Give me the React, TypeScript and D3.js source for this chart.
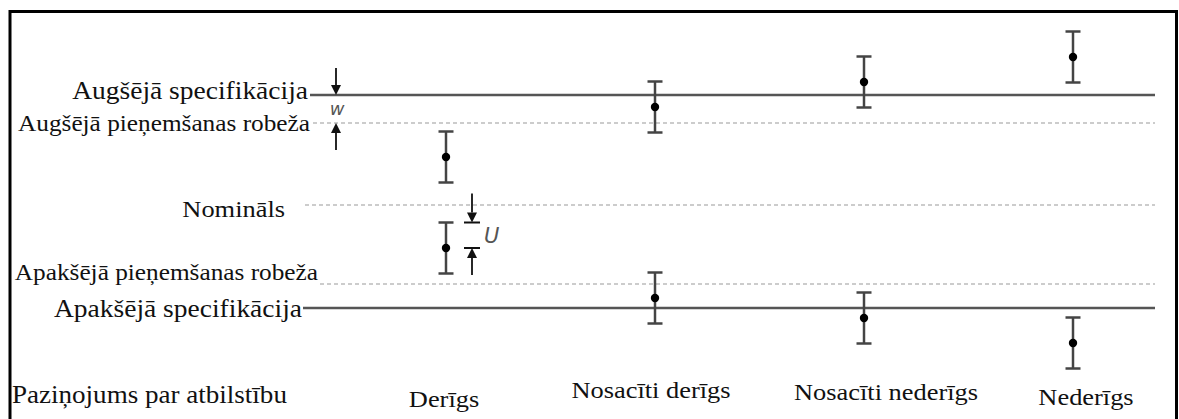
import React from 'react';
import * as d3 from 'd3';

// ---- data ----
const categories = ['Derīgs', 'Nosacīti derīgs', 'Nosacīti nederīgs', 'Nederīgs'];
const upperMeasured = [4.8, 9.8, 12.3, 14.8];
const lowerMeasured = [-4.3, -9.3, -11.3, -13.8];
const uncertaintyU = 2.55;
const limitNames = [
  'Augšējā specifikācija',
  'Augšējā pieņemšanas robeža',
  'Nomināls',
  'Apakšējā pieņemšanas robeža',
  'Apakšējā specifikācija',
];
const limitValues = [11.0, 8.2, 0, -7.9, -10.3];
const limitKinds = ['spec', 'accept', 'nominal', 'accept', 'spec'];
const statementTitle = 'Paziņojums par atbilstību';

// ---- layout (not data) ----
const W = 1179;
const H = 419;
const labelLayout = [
  { endX: 308, dy: 4, fs: 25, lineStart: 310 },
  { endX: 310, dy: 8, fs: 23, lineStart: 313 },
  { endX: 285, dy: 12, fs: 24, lineStart: 305 },
  { endX: 318, dy: -4, fs: 23, lineStart: 320 },
  { endX: 302, dy: 9, fs: 25, lineStart: 303 },
];
const catLabelLayout = [
  { dx: -2, y: 407 },
  { dx: -4, y: 398 },
  { dx: 22, y: 400 },
  { dx: 13, y: 405 },
];
const lineEnd = 1155;
const serif = '"Liberation Serif", "Times New Roman", serif';
const sans = '"DejaVu Sans", "Liberation Sans", sans-serif';
const sx = 1.1;

function Arrow({ x, tail, tip, color }: { x: number; tail: number; tip: number; color: string }) {
  const dir = tip > tail ? 1 : -1;
  const hl = 10;
  const hw = 5;
  return (
    <g>
      <line x1={x} x2={x} y1={tail} y2={tip - dir * hl} stroke={color} strokeWidth={1.8} />
      <path d={`M${x},${tip} L${x - hw},${tip - dir * hl} L${x + hw},${tip - dir * hl} Z`} fill={color} />
    </g>
  );
}

export default function App() {
  const y = d3.scaleLinear().domain([-10.3, 11.0]).range([308, 95]);
  const x = d3.scalePoint<string>().domain(categories).range([446, 1073]);
  const cap = 7.5;
  const barColor = '#444';

  const bars: { cx: number; v: number }[] = [];
  categories.forEach((c, i) => {
    bars.push({ cx: x(c)!, v: upperMeasured[i] });
    bars.push({ cx: x(c)!, v: lowerMeasured[i] });
  });

  const ySpecU = y(limitValues[0]);
  const yAccU = y(limitValues[1]);
  const uCx = x(categories[0])!;
  const uTop = y(lowerMeasured[0] + uncertaintyU);
  const uMid = y(lowerMeasured[0]);
  const uX = uCx + 26;

  return (
    <svg width={W} height={H} style={{ position: 'absolute', left: 0, top: 0, background: '#fff' }}>
      <rect x={0} y={0} width={W} height={H} fill="#fff" />
      <rect x={10} y={11.5} width={1166.5} height={500} fill="none" stroke="#000" strokeWidth={3} />

      {limitNames.map((name, i) => {
        const ly = y(limitValues[i]);
        const L = labelLayout[i];
        const kind = limitKinds[i];
        return (
          <g key={name}>
            {kind === 'spec' ? (
              <line x1={L.lineStart} x2={lineEnd} y1={ly} y2={ly} stroke="#555" strokeWidth={2.5} />
            ) : (
              <line x1={L.lineStart} x2={lineEnd} y1={ly} y2={ly} stroke="#999" strokeWidth={1.2} strokeDasharray="4 3" />
            )}
            <text
              transform={`translate(${L.endX},${ly + L.dy}) scale(${sx},1)`}
              textAnchor="end"
              fontFamily={serif}
              fontSize={L.fs}
              fill="#111"
            >
              {name}
            </text>
          </g>
        );
      })}

      {bars.map((b, i) => (
        <g key={i}>
          <line x1={b.cx} x2={b.cx} y1={y(b.v + uncertaintyU)} y2={y(b.v - uncertaintyU)} stroke={barColor} strokeWidth={2.5} />
          <line x1={b.cx - cap} x2={b.cx + cap} y1={y(b.v + uncertaintyU)} y2={y(b.v + uncertaintyU)} stroke={barColor} strokeWidth={2.5} />
          <line x1={b.cx - cap} x2={b.cx + cap} y1={y(b.v - uncertaintyU)} y2={y(b.v - uncertaintyU)} stroke={barColor} strokeWidth={2.5} />
          <circle cx={b.cx} cy={y(b.v)} r={4.2} fill="#000" />
        </g>
      ))}

      {/* w annotation */}
      <Arrow x={336} tail={ySpecU - 27} tip={ySpecU} color="#111" />
      <Arrow x={336} tail={yAccU + 27} tip={yAccU} color="#111" />
      <text x={337} y={(ySpecU + yAccU) / 2 + 6} textAnchor="middle" fontFamily={sans} fontStyle="italic" fontSize={18} fill="#555">w</text>

      {/* U annotation */}
      <Arrow x={uX} tail={uTop - 29} tip={uTop} color="#111" />
      <line x1={uX - 8} x2={uX + 8} y1={uTop} y2={uTop} stroke="#111" strokeWidth={2} />
      <Arrow x={uX} tail={uMid + 27} tip={uMid} color="#111" />
      <line x1={uX - 8} x2={uX + 8} y1={uMid} y2={uMid} stroke="#111" strokeWidth={2} />
      <text x={uX + 12} y={(uTop + uMid) / 2 + 8} fontFamily={sans} fontStyle="italic" fontSize={21} fill="#555">U</text>

      {/* statement row */}
      <text transform={`translate(12,403) scale(${sx},1)`} fontFamily={serif} fontSize={24.6} fill="#111">{statementTitle}</text>
      {categories.map((c, i) => (
        <text
          key={c}
          transform={`translate(${x(c)! + catLabelLayout[i].dx},${catLabelLayout[i].y}) scale(${sx},1)`}
          textAnchor="middle"
          fontFamily={serif}
          fontSize={24}
          fill="#111"
        >
          {c}
        </text>
      ))}
    </svg>
  );
}
